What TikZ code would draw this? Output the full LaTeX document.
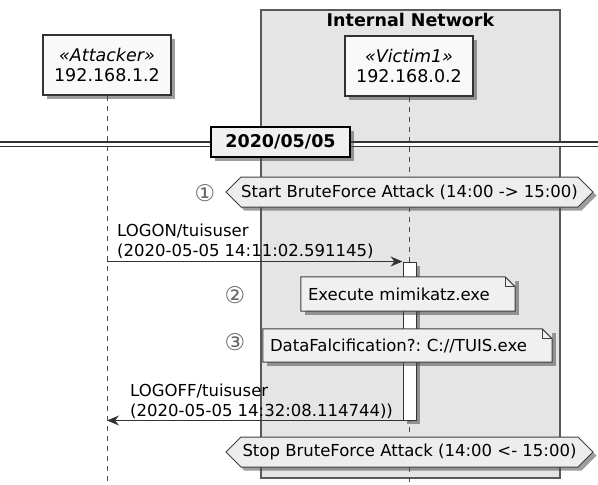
\documentclass[tikz,border=0pt]{standalone}
\usepackage{fontspec}
\setmainfont{DejaVu Sans}
\usepackage{tikz}
\usetikzlibrary{shapes.symbols, arrows.meta, shadows, calc}
\frenchspacing
\tikzset{
  softshadow/.style={drop shadow={shadow xshift=3.5pt, shadow yshift=-3.5pt, opacity=0.55, fill=black!70}},
  actor/.style={rectangle, draw=black!80, line width=1.5pt, fill=gray!5, softshadow,
                align=center, minimum width=128pt, minimum height=60pt, inner sep=0pt,
                font=\fontsize{17.5}{20}\selectfont},
  netbox/.style={rectangle, draw=black!65, line width=1.1pt, fill=gray!20, inner sep=0pt},
  boxtitle/.style={font=\fontsize{17.5}{20}\selectfont\bfseries, inner sep=0pt},
  lifeline/.style={draw=black!70, line width=1pt, dash pattern=on 5pt off 5pt},
  divider/.style={draw=black!80, line width=1.2pt, double=white, double distance=3pt},
  datebox/.style={rectangle, draw=black, line width=2.2pt, fill=gray!12, softshadow,
                  minimum width=139pt, minimum height=30pt, inner sep=0pt,
                  font=\fontsize{17.5}{20}\selectfont\bfseries},
  hexbox/.style={signal, signal to=west and east, draw=black!75, line width=1pt,
                 fill=gray!14, softshadow, minimum height=30pt, inner sep=0pt,
                 font=\fontsize{16.5}{20}\selectfont},
  actbar/.style={rectangle, draw=black!80, line width=1pt, fill=white, softshadow,
                 minimum width=13pt, inner sep=0pt},
  msg/.style={-{Stealth[length=12pt, width=10pt, inset=4pt]}, draw=black!80, line width=1.1pt},
  msglabel/.style={inner sep=0pt, align=left, font=\fontsize{16.5}{20}\selectfont},
  note/.style={rectangle, fill=gray!12, softshadow, inner xsep=7pt, inner ysep=0pt,
               align=left, font=\fontsize{16.5}{20}\selectfont},
  noteline/.style={draw=black!75, line width=1pt},
  stepnum/.style={inner sep=0pt, text=black!60, font=\fontsize{23}{24}\selectfont},
}
% folded corner of a note node
\newcommand{\dogear}[1]{%
  \fill[gray!20] ([xshift=-10pt]#1.north east) -- (#1.north east) -- ([yshift=-10pt]#1.north east) -- cycle;
  \draw[noteline] (#1.south west) -- (#1.north west) -- ([xshift=-10pt]#1.north east)
    -- ([yshift=-10pt]#1.north east) -- (#1.south east) -- cycle;
  \draw[noteline] ([xshift=-10pt]#1.north east) |- ([yshift=-10pt]#1.north east);}

\begin{document}
\begin{tikzpicture}[x=1pt, y=-1pt]
  \useasboundingbox (0,0) rectangle (598,485);

  %% Internal Network box
  \node[netbox, minimum width=299pt, minimum height=468pt] (net) at (410.5,244) {};
  \node[boxtitle] (nettitle) at (410.5,20) {Internal Network};

  %% participants and lifelines
  \node[actor] (att) at (107,65) {\textit{«Attacker»}\\192.168.1.2};
  \node[actor] (vic) at (409,66) {\textit{«Victim1»}\\192.168.0.2};
  \coordinate (attend) at (att.south |- 0,485);
  \coordinate (vicend) at (vic.south |- 0,485);
  \draw[lifeline] (att.south) -- (attend);
  \draw[lifeline] (vic.south) -- (vicend);

  %% date divider
  \coordinate (divl) at (0,144);
  \coordinate (divr) at (598,144);
  \draw[divider] (divl) -- (divr);
  \node[datebox] (date) at (280.5,142) {2020/05/05};

  %% attack window
  \node[hexbox, minimum width=367pt] (start) at (409.5,192) {Start BruteForce Attack (14:00 -> 15:00)};
  \node[stepnum] (n1) at (205,193) {①};

  %% activation and messages
  \node[actbar, minimum height=158pt] (act) at (409.5,341) {};
  \draw[msg] (att |- act.north) -- (act.north west);
  \node[msglabel, anchor=south west] (logon) at (117,258.5) {LOGON/tuisuser\\(2020-05-05 14:11:02.591145)};

  \node[note, text width=200pt, minimum height=34pt] (exec) at (408,294) {Execute mimikatz.exe};
  \dogear{exec}
  \node[stepnum] (n2) at (235,295) {②};

  \node[note, text width=275pt, minimum height=33pt] (falc) at (407.5,345.5) {DataFalcification?: C://TUIS.exe};
  \dogear{falc}
  \node[stepnum] (n3) at (235,342) {③};

  \draw[msg] (act.south west) -- (att |- act.south);
  \node[msglabel, anchor=south west] (logoff) at (130,418.5) {LOGOFF/tuisuser\\(2020-05-05 14:32:08.114744))};

  \node[hexbox, minimum width=367pt] (stop) at (409.5,452) {Stop BruteForce Attack (14:00 <- 15:00)};

\end{tikzpicture}
\end{document}
